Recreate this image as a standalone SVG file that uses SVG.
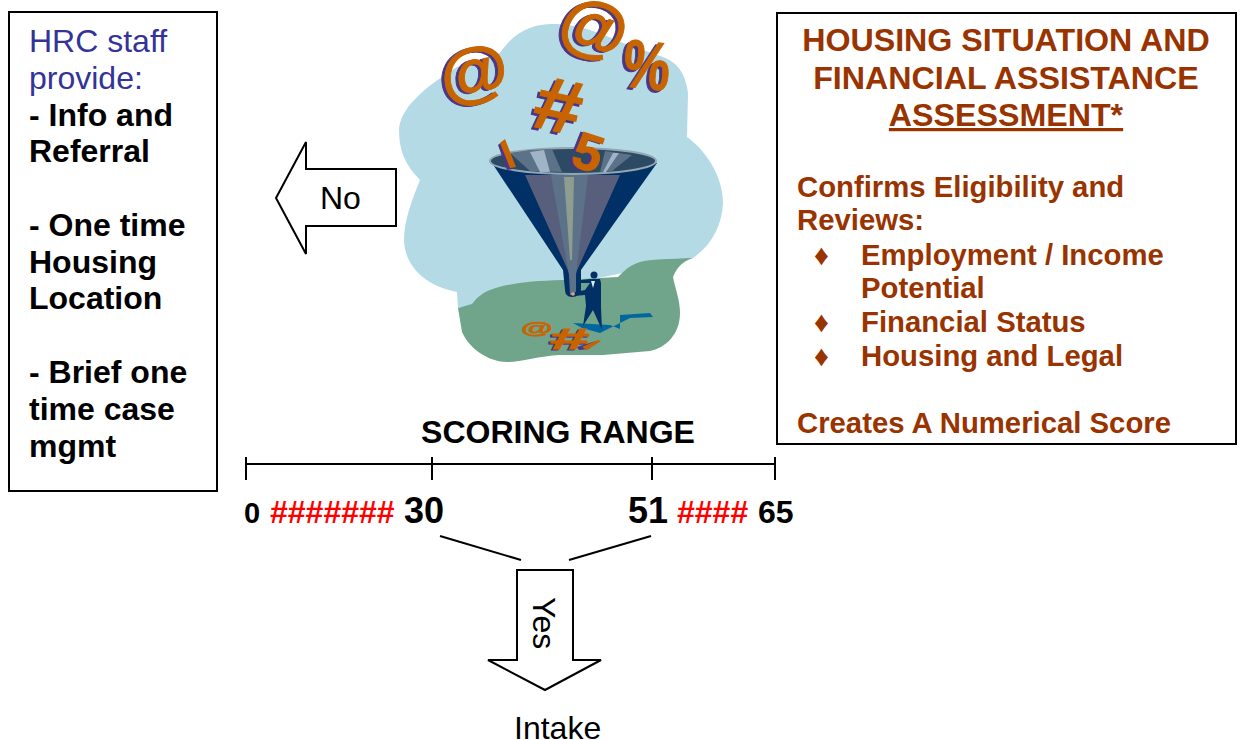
<svg xmlns="http://www.w3.org/2000/svg" width="1243" height="740" viewBox="0 0 1243 740">
<style>
text{font-family:"Liberation Sans",Arial,sans-serif}
.box{fill:#fff;stroke:#000;stroke-width:2}
.l{font-size:32px;font-weight:bold;fill:#000}
.b{font-size:32px;fill:#333399}
.h{font-size:32.2px;font-weight:bold;fill:#993300}
.r{font-size:29.3px;font-weight:bold;fill:#993300}
.n{font-weight:bold;fill:#000}
.p{font-weight:bold;fill:#ff0000}
.t{font-size:32px;fill:#000}
.ln{fill:none;stroke:#000;stroke-width:2}
.sym{font-weight:bold;fill:#c86400;stroke:#c86400;stroke-width:1}
.shd{font-weight:bold;fill:#4b3585;stroke:#4b3585;stroke-width:1}
</style>
<g id="hrc-box">
<rect class="box" x="9" y="12" width="208" height="479"/>
<text class="b" x="29" y="52">HRC staff</text>
<text class="b" x="29" y="89">provide:</text>
<text class="l" x="29" y="126">- Info and</text>
<text class="l" x="29" y="162">Referral</text>
<text class="l" x="29" y="236">- One time</text>
<text class="l" x="29" y="273">Housing</text>
<text class="l" x="29" y="309">Location</text>
<text class="l" x="29" y="383">- Brief one</text>
<text class="l" x="29" y="420">time case</text>
<text class="l" x="29" y="457">mgmt</text>
</g>
<g id="assessment-box">
<rect class="box" x="777" y="13" width="459" height="431"/>
<text class="h" x="1006" y="51" text-anchor="middle">HOUSING SITUATION AND</text>
<text class="h" x="1006" y="89" text-anchor="middle">FINANCIAL ASSISTANCE</text>
<text class="h" x="1006" y="126" text-anchor="middle" text-decoration="underline">ASSESSMENT*</text>
<text class="r" x="797" y="197">Confirms Eligibility and</text>
<text class="r" x="797" y="230">Reviews:</text>
<text class="r" x="814" y="265">♦</text>
<text class="r" x="861" y="265">Employment / Income</text>
<text class="r" x="861" y="298">Potential</text>
<text class="r" x="814" y="332">♦</text>
<text class="r" x="861" y="332">Financial Status</text>
<text class="r" x="814" y="366">♦</text>
<text class="r" x="861" y="366">Housing and Legal</text>
<text class="r" x="797" y="433">Creates A Numerical Score</text>
</g>
<g id="funnel-art">
<path fill="#b3dae5" d="M500 53C515 30 535 24 552 24C572 24 590 28 623 43L657 55C675 60 685 70 688 93L687 137C705 150 723 175 723 203C722 225 712 245 693 258L458 308L457 292C430 287 405 270 404 240C404 220 412 200 420 180C405 165 399 150 399 130C400 110 420 90 457 67Z"/>
<path fill="#70a58c" d="M693 258C670 259 650 259 640 262C630 265 625 270 618 277L563 280C530 281 510 283 490 290C480 294 475 300 472 304L458 308L462 332C470 350 490 362 507 362C520 362 540 356 560 355L603 355L650 351C665 348 680 335 680 313C680 300 675 288 673 277C676 270 680 262 693 258Z"/>
<path fill="#003066" d="M492 163H657L581 270V290Q580 297 572 297Q565 297 565 290L563 270Z"/>
<path fill="#585f7c" d="M525 175H620L575 275V295H570V275Z"/>
<path fill="#5c7289" d="M551 175H588L576 275V295H570L569 275Z"/>
<path fill="#8f9c90" d="M564 177H574L572 260H570Z"/>
<ellipse cx="573" cy="161" rx="83" ry="13" fill="#2d4a64" stroke="#93a6b3" stroke-width="2"/>
<path fill="#5c7289" d="M510 153L530 150L552 149L562 172L530 171Z"/>
<path fill="#9fb4c6" d="M530 152L544 150L550 172L540 172Z"/>
<path fill="#5c7289" d="M605 151L632 155L612 171L600 172Z"/>
<path fill="#9fb4c6" d="M613 153L619 153L606 172L603 172Z"/>
<text class="shd" font-size="78" transform="translate(441 101) rotate(-10) scale(.9 .85)">@</text>
<text class="sym" font-size="78" transform="translate(444 100) rotate(-10) scale(.9 .85)">@</text>
<text class="shd" font-size="78" transform="translate(552 38) rotate(20) scale(.88)">@</text>
<text class="sym" font-size="78" transform="translate(555 37) rotate(20) scale(.88)">@</text>
<text class="shd" font-size="68" transform="translate(618 88) rotate(6) scale(.78 1)">%</text>
<text class="sym" font-size="68" transform="translate(621 86) rotate(6) scale(.78 1)">%</text>
<text class="shd" font-size="76" transform="translate(527 128) rotate(12) scale(1.12 1)">#</text>
<text class="sym" font-size="76" transform="translate(530 126) rotate(12) scale(1.12 1)">#</text>
<path fill="#4b3585" d="M498 145L503 141L513 169L507 170Z"/>
<path fill="#c86400" d="M500 143L505 139L516 167L510 168Z"/>
<text class="shd" font-size="52" transform="translate(566 165) rotate(18)">5</text>
<text class="sym" font-size="52" transform="translate(569 165) rotate(18)">5</text>
<path fill="#00689f" d="M573 323L610 325L620 329L620 315L650 313L653 317L630 318L600 333L582 328Z"/>
<path fill="#003066" d="M600 279L601 283L601 307L602 330L593 310L583 326L586 306L585 295L574 296L575 292L585 290L590 283L580 283L581 280L590 279Z"/>
<circle cx="594" cy="275" r="3.5" fill="#003066"/>
<path fill="#d8f0f0" d="M591 281L595 281L593 288Z"/>
<circle cx="573" cy="294" r="1.8" fill="#e8a080"/>
<text class="sym" stroke-width=".5" font-size="26" transform="translate(521 334) scale(1.25 .62)">@</text>
<text class="shd" font-size="34" transform="translate(548 350) scale(2.1 .85)">#</text>
<text class="sym" font-size="34" transform="translate(550 349) scale(2.1 .85)">#</text>
<path fill="#4b3585" d="M577 347L596 341L589 349L579 350Z"/>
<path fill="#c86400" d="M582 347L598 340L601 341L587 350Z"/>
</g>
<g id="no-arrow">
<path class="box" d="M396 169H306V142L276 198L306 254V226H396Z"/>
<text class="t" x="320" y="209">No</text>
</g>
<g id="yes-arrow">
<path class="box" d="M517 570H573V660H601L545 690L488 660H517Z"/>
<text class="t" transform="translate(533 597) rotate(90)">Yes</text>
</g>
<g id="scale">
<text class="n" font-size="32" x="558" y="443" text-anchor="middle">SCORING RANGE</text>
<path class="ln" d="M246 464H775M246 457V480M432 457V480M652 457V480M775 457V480"/>
<text class="n" font-size="29" x="244" y="523">0</text>
<text class="p" font-size="32" x="270" y="523">#######</text>
<text class="n" font-size="36" x="404" y="523">30</text>
<text class="n" font-size="36" x="628" y="523">51</text>
<text class="p" font-size="32" x="677" y="523">####</text>
<text class="n" font-size="32" x="758" y="523">65</text>
</g>
<g id="connectors">
<path class="ln" d="M440 536L521 560M651 536L569 560"/>
</g>
<g id="intake">
<text class="t" x="514" y="739">Intake</text>
</g>
</svg>
